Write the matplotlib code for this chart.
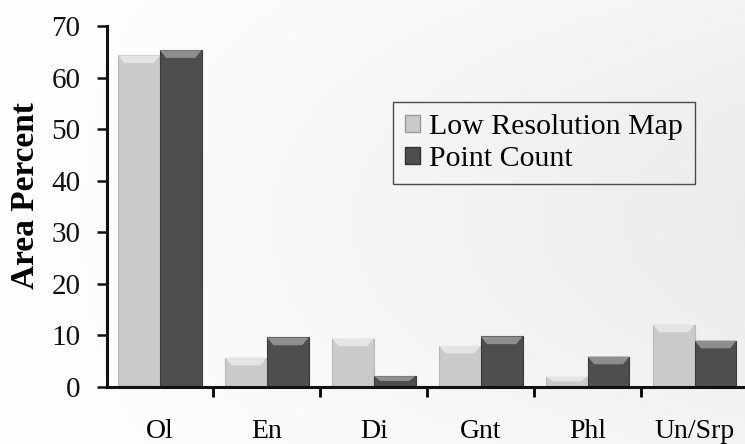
import numpy as np
import matplotlib.pyplot as plt
from matplotlib.patches import Polygon

# Mineral modes: low resolution map vs point count
minerals = ['Ol', 'En', 'Di', 'Gnt', 'Phl', 'Un/Srp']
low_res_map = [64.3, 5.7, 9.4, 8.0, 2.0, 12.1]
point_count = [65.3, 9.6, 2.1, 9.8, 5.9, 9.0]
series_names = ['Low Resolution Map', 'Point Count']
y_ticks = [0, 10, 20, 30, 40, 50, 60, 70]

plt.rcParams['font.family'] = ['Liberation Serif', 'DejaVu Serif']

fig = plt.figure(figsize=(7.45, 4.44), dpi=100)
fig.patch.set_facecolor('white')

# soft grey wash behind the chart, paler at the left and bottom
bg = fig.add_axes([0, 0, 1, 1], zorder=-10)
gx = np.linspace(0.0, 1.0, 200)[None, :]
gy = np.linspace(0.0, 1.0, 120)[:, None]
shade = 1.0 - 0.075 * gx * (0.55 + 0.45 * np.sin(np.pi * gy))
bg.imshow(np.dstack([shade] * 3), aspect='auto', extent=[0, 1, 0, 1],
          interpolation='bicubic')
bg.axis('off')

ax = fig.add_axes([107 / 745, 1 - 387 / 444, 1 - 107 / 745, (387 - 26) / 444])
ax.patch.set_alpha(0)

x = np.arange(len(minerals))
w = 0.39


def bevel_bars(ax, left, values, body, face, top):
    # flat bar plus a lighter chamfer across its top
    ax.bar(left, values, width=w, align='edge', color=body,
           edgecolor=face, linewidth=0.8, zorder=2)
    for l, v in zip(left, values):
        b = min(1.5, v * 0.45)
        ins = 0.06
        poly = Polygon([[l, v], [l + w, v], [l + w - ins, v - b], [l + ins, v - b]],
                       closed=True, facecolor=top, edgecolor='none', zorder=3)
        ax.add_patch(poly)


bevel_bars(ax, x - w, low_res_map, '#cacaca', '#b8b8b8', '#e4e4e4')
bevel_bars(ax, x, point_count, '#4e4e4e', '#3a3a3a', '#8e8e8e')

ax.set_xlim(-0.495, 5.47)
ax.set_ylim(0, 70)

for side in ['top', 'right']:
    ax.spines[side].set_visible(False)
for side in ['left', 'bottom']:
    ax.spines[side].set_linewidth(2.2)
    ax.spines[side].set_color('#111111')

ax.set_yticks(y_ticks)
ax.tick_params(axis='y', direction='out', length=7, width=1.8,
               labelsize=21, pad=12, colors='#111111')

ax.set_xticks(x)
ax.set_xticklabels(minerals)
ax.set_xticks(x[:-1] + 0.5, minor=True)
ax.tick_params(axis='x', which='major', length=0, labelsize=20, pad=23)
ax.tick_params(axis='x', which='minor', direction='out', length=7, width=2)

ax.set_ylabel('Area Percent', fontsize=24, fontweight='bold')
ax.yaxis.set_label_coords(-0.103, 0.53)

handles = [plt.Rectangle((0, 0), 1, 1, facecolor='#cacaca', edgecolor='#999999'),
           plt.Rectangle((0, 0), 1, 1, facecolor='#4e4e4e', edgecolor='#333333')]
leg = ax.legend(handles, series_names, loc='upper left',
                bbox_to_anchor=(393 / 745, 1 - 102 / 444),
                bbox_transform=fig.transFigure, fontsize=21.5, frameon=True,
                fancybox=False, handlelength=0.5, handleheight=0.5,
                handletextpad=0.3, labelspacing=0.2, borderpad=0.4,
                borderaxespad=0)
leg.get_frame().set_edgecolor('#222222')
leg.get_frame().set_linewidth(1.0)
leg.get_frame().set_facecolor('none')

fig.savefig('out.png', dpi=100)
